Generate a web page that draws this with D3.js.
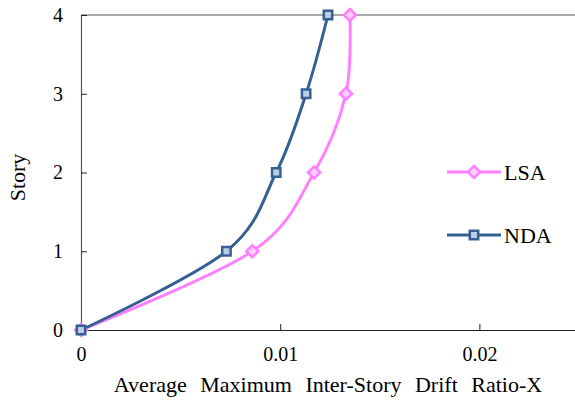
<!DOCTYPE html>
<html>
<head>
<meta charset="utf-8">
<script src="https://cdn.jsdelivr.net/npm/d3@7"></script>
<style>
  body { margin: 0; background: #fff; }
</style>
</head>
<body>
<div id="chart-area"></div>
<script>
let stories = [0, 1, 2, 3, 4]
let lsaDrift = [0, 0.0086, 0.0117, 0.0133, 0.0135]
let ndaDrift = [0, 0.0073, 0.0098, 0.0113, 0.0124]
let xTicks = [0, 0.01, 0.02]
let yTicks = [0, 1, 2, 3, 4]
let seriesNames = ["LSA", "NDA"]

let font = "'Liberation Serif', 'Times New Roman', serif"

let margin = { top: 15, right: 0, bottom: 73, left: 81 }
let width = 575, height = 403
let canvasWidth = width - margin.left - margin.right
let canvasHeight = height - margin.top - margin.bottom

let svg = d3.select("#chart-area").append("svg")
  .attr("width", width)
  .attr("height", height)
  .attr("font-family", font)

let g = svg.append("g")
  .attr("transform", "translate(" + margin.left + "," + margin.top + ")")

let x = d3.scaleLinear().domain([0, 0.0248]).range([0, canvasWidth])
let y = d3.scaleLinear().domain([0, 4]).range([canvasHeight, 0])

// top border
g.append("line")
  .attr("x1", 0).attr("x2", canvasWidth)
  .attr("y1", 0).attr("y2", 0)
  .attr("stroke", "#555").attr("stroke-width", 1.2)

let xAxis = g.append("g")
  .attr("transform", "translate(0," + canvasHeight + ")")
  .call(d3.axisBottom(x).tickValues(xTicks).tickSizeInner(-6).tickSizeOuter(0)
    .tickFormat(d => d === 0 ? "0" : d3.format(".2~f")(d)))
xAxis.attr("font-family", font)
xAxis.select(".domain").attr("stroke", "#222").attr("stroke-width", 1.2)
xAxis.selectAll(".tick line").attr("stroke", "#222")
xAxis.selectAll(".tick text")
  .attr("y", 17)
  .attr("font-family", font)
  .attr("font-size", 20)

let yAxis = g.append("g")
  .call(d3.axisLeft(y).tickValues(yTicks).tickSizeInner(-6).tickSizeOuter(0)
    .tickFormat(d3.format("d")))
yAxis.attr("font-family", font)
yAxis.select(".domain").attr("stroke", "#555").attr("stroke-width", 1.2)
yAxis.selectAll(".tick line").attr("stroke", "#222")
yAxis.selectAll(".tick text")
  .attr("x", -18)
  .attr("font-family", font)
  .attr("font-size", 20)

g.append("text")
  .attr("x", 247)
  .attr("y", canvasHeight + 62)
  .attr("text-anchor", "middle")
  .attr("font-family", font)
  .attr("font-size", 22)
  .attr("word-spacing", 8)
  .text("Average Maximum Inter-Story Drift Ratio-X")

g.append("text")
  .attr("transform", "rotate(-90)")
  .attr("x", -(y(2) + 5))
  .attr("y", -56)
  .attr("text-anchor", "middle")
  .attr("font-family", font)
  .attr("font-size", 22)
  .text("Story")

let styles = {
  LSA: { stroke: "#ff80ff", fill: "#ffccff", shape: d3.symbolDiamond2, size: 95 },
  NDA: { stroke: "#376092", fill: "#b9cde5", shape: d3.symbolSquare2, size: 90 }
}
let seriesData = {
  LSA: stories.map((s, i) => ({ story: s, drift: lsaDrift[i] })),
  NDA: stories.map((s, i) => ({ story: s, drift: ndaDrift[i] }))
}

let line = d3.line()
  .x(d => x(d.drift))
  .y(d => y(d.story))
  .curve(d3.curveCatmullRom.alpha(0))

seriesNames.forEach(name => {
  let st = styles[name]
  g.append("path")
    .datum(seriesData[name])
    .attr("fill", "none")
    .attr("stroke", st.stroke)
    .attr("stroke-width", 3)
    .attr("d", line)
})

seriesNames.forEach(name => {
  let st = styles[name]
  g.selectAll(".pt-" + name)
    .data(seriesData[name])
    .enter().append("path")
      .attr("class", "pt-" + name)
      .attr("transform", d => "translate(" + x(d.drift) + "," + y(d.story) + ")")
      .attr("d", d3.symbol().type(st.shape).size(st.size))
      .attr("fill", st.fill)
      .attr("stroke", st.stroke)
      .attr("stroke-width", 2.5)
})

// legend
let legend = svg.append("g").attr("transform", "translate(447,172)")
seriesNames.forEach((name, i) => {
  let st = styles[name]
  let row = legend.append("g").attr("transform", "translate(0," + (i * 63) + ")")
  row.append("line")
    .attr("x1", 0).attr("x2", 54)
    .attr("stroke", st.stroke).attr("stroke-width", 3)
  row.append("path")
    .attr("transform", "translate(27,0)")
    .attr("d", d3.symbol().type(st.shape).size(st.size))
    .attr("fill", st.fill)
    .attr("stroke", st.stroke)
    .attr("stroke-width", 2.5)
  row.append("text")
    .attr("x", 57)
    .attr("dy", "0.35em")
    .attr("font-family", font)
    .attr("font-size", 22)
    .text(name)
})
</script>
</body>
</html>
